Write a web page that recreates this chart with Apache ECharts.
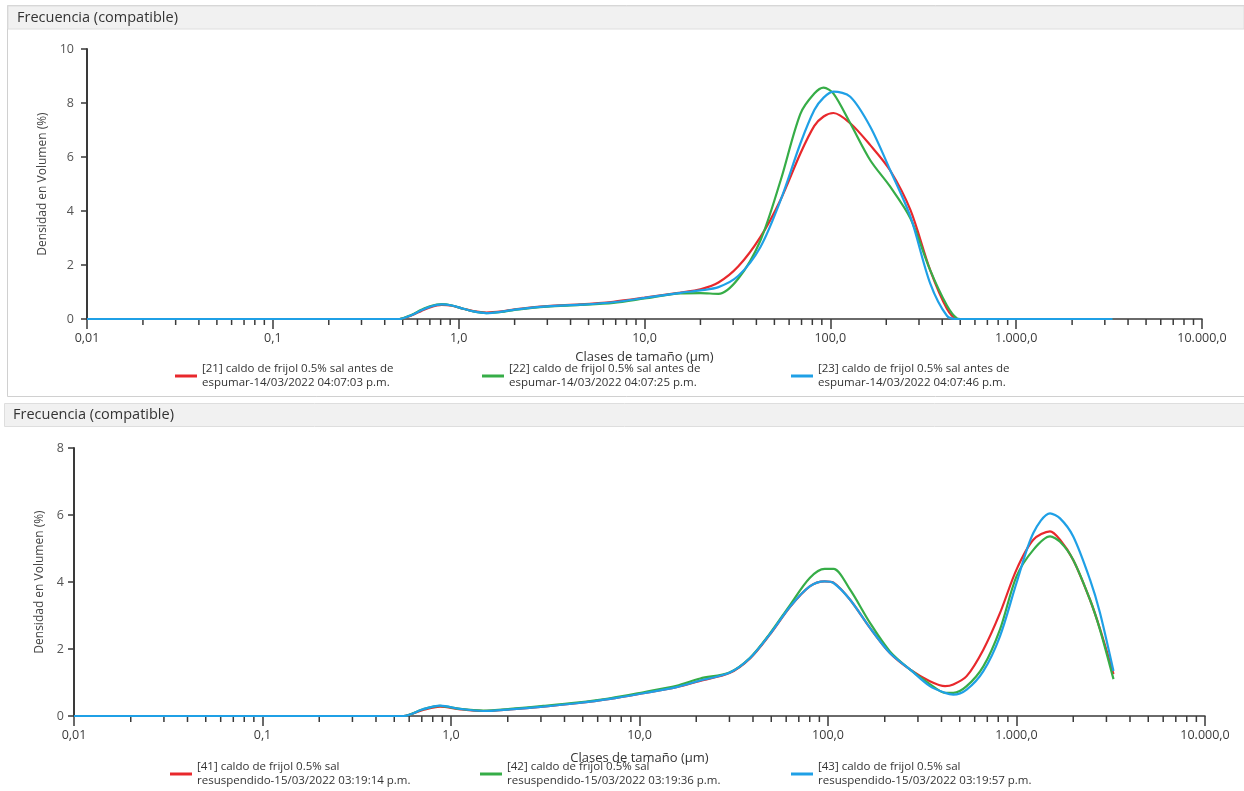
<!DOCTYPE html>
<html>
<head>
<meta charset="utf-8">
<script src="https://cdn.jsdelivr.net/npm/echarts@6/dist/echarts.min.js"></script>
<style>
html,body{margin:0;padding:0;background:#fff;}
#chart{width:1244px;height:791px;}
</style>
</head>
<body>
<div id="chart"></div>
<script>
// ---------- data ----------
var topSizes = [0.01, 0.46, 0.48, 0.56, 0.63, 0.70, 0.81, 0.92, 1.06, 1.2, 1.41, 1.7, 2.0, 3.0, 4.5, 6.8, 10, 15.6, 20, 25, 32, 42, 54, 69, 82, 92, 104, 128, 164, 210, 270, 345, 424, 480, 500, 3300];
var topRed   = [0, 0, 0, 0.14, 0.30, 0.43, 0.52, 0.49, 0.38, 0.29, 0.24, 0.28, 0.36, 0.48, 0.54, 0.64, 0.79, 0.98, 1.10, 1.35, 1.95, 3.03, 4.42, 6.13, 7.15, 7.50, 7.63, 7.25, 6.44, 5.50, 4.03, 1.80, 0.38, 0, 0, 0];
var topGreen = [0, 0, 0, 0.16, 0.34, 0.47, 0.55, 0.50, 0.38, 0.28, 0.22, 0.26, 0.34, 0.46, 0.52, 0.60, 0.76, 0.95, 0.96, 0.93, 1.50, 2.90, 5.13, 7.60, 8.35, 8.57, 8.35, 7.25, 5.88, 4.90, 3.72, 1.80, 0.50, 0.02, 0, 0];
var topBlue  = [0, 0, 0, 0.15, 0.32, 0.45, 0.54, 0.50, 0.38, 0.28, 0.22, 0.27, 0.35, 0.47, 0.53, 0.62, 0.78, 0.97, 1.06, 1.18, 1.60, 2.66, 4.40, 6.50, 7.74, 8.20, 8.42, 8.23, 7.12, 5.51, 3.78, 1.31, 0.12, 0, 0, 0];

var botSizes = [0.01, 0.54, 0.56, 0.71, 0.875, 1.12, 1.48, 2.06, 3.09, 4.64, 6.98, 10.5, 15.7, 21, 30, 38.6, 49, 63, 80, 96, 107, 131, 167, 213, 272, 347, 418, 462, 544, 667, 817, 1000, 1228, 1506, 1702, 2000, 2455, 2772, 3270];
var botRed   = [0, 0, 0, 0.18, 0.28, 0.20, 0.15, 0.20, 0.28, 0.38, 0.51, 0.68, 0.86, 1.05, 1.28, 1.72, 2.42, 3.26, 3.87, 4.02, 3.98, 3.47, 2.63, 1.88, 1.39, 1.04, 0.89, 0.94, 1.19, 1.98, 3.07, 4.37, 5.26, 5.51, 5.26, 4.66, 3.47, 2.60, 1.25];
var botGreen = [0, 0, 0, 0.20, 0.30, 0.21, 0.16, 0.21, 0.30, 0.40, 0.53, 0.71, 0.90, 1.12, 1.30, 1.74, 2.45, 3.32, 4.12, 4.39, 4.39, 3.77, 2.78, 1.93, 1.39, 0.95, 0.69, 0.69, 0.89, 1.48, 2.58, 4.17, 4.96, 5.36, 5.20, 4.66, 3.47, 2.58, 1.10];
var botBlue  = [0, 0, 0, 0.20, 0.31, 0.21, 0.15, 0.20, 0.28, 0.38, 0.51, 0.68, 0.86, 1.06, 1.29, 1.73, 2.43, 3.27, 3.87, 4.02, 3.97, 3.47, 2.63, 1.88, 1.39, 0.89, 0.69, 0.64, 0.79, 1.34, 2.38, 3.97, 5.46, 6.05, 5.90, 5.36, 4.07, 3.08, 1.34];

var topNames = [
  '[21] caldo de frijol 0.5% sal antes de\nespumar-14/03/2022 04:07:03 p.m.',
  '[22] caldo de frijol 0.5% sal antes de\nespumar-14/03/2022 04:07:25 p.m.',
  '[23] caldo de frijol 0.5% sal antes de\nespumar-14/03/2022 04:07:46 p.m.'
];
var botNames = [
  '[41] caldo de frijol 0.5% sal\nresuspendido-15/03/2022 03:19:14 p.m.',
  '[42] caldo de frijol 0.5% sal\nresuspendido-15/03/2022 03:19:36 p.m.',
  '[43] caldo de frijol 0.5% sal\nresuspendido-15/03/2022 03:19:57 p.m.'
];
var xTickLabels = {'0.01':'0,01','0.1':'0,1','1':'1,0','10':'10,0','100':'100,0','1000':'1.000,0','10000':'10.000,0'};
var panelTitle = 'Frecuencia (compatible)';
var xName = 'Clases de tamaño (µm)';
var yName = 'Densidad en Volumen (%)';
var colors = ['#e8282c', '#36ad47', '#1fa0e6'];

// minor ticks of the log axis (2..9 within each decade)
var minorTicks = [];
for (var d = -2; d < 4; d++) {
  for (var k = 2; k <= 9; k++) minorTicks.push([+(k * Math.pow(10, d)).toPrecision(3), 0]);
}

function zip(xs, ys) { return xs.map(function (x, i) { return [x, ys[i]]; }); }

var FONT = 'Open Sans';
var axisColor = '#3a3a3a';

function xAxis(gi) {
  return {
    type: 'log', logBase: 10, min: 0.01, max: 10000, gridIndex: gi,
    name: xName, nameLocation: 'middle', nameGap: gi === 0 ? 32 : 36,
    nameTextStyle: {fontFamily: FONT, fontSize: 13, color: '#333'},
    axisLine: {show: true, onZero: false, lineStyle: {color: axisColor, width: 1.5}},
    axisTick: {show: true, length: 10, lineStyle: {color: axisColor, width: 1.5}},
    splitLine: {show: false},
    axisLabel: {fontFamily: FONT, fontSize: 12.5, color: '#3a3a3a', margin: 13,
      formatter: function (v) { var key = String(+v.toPrecision(3)); return xTickLabels[key] || ''; }}
  };
}
function yAxis(gi, max) {
  return {
    type: 'value', min: 0, max: max, interval: 2, gridIndex: gi,
    name: yName, nameLocation: 'middle', nameGap: gi === 0 ? 31 : 24,
    nameTextStyle: {fontFamily: FONT, fontSize: 12, color: '#444'},
    axisLine: {show: true, lineStyle: {color: axisColor, width: 2}},
    axisTick: {show: true, length: 6, lineStyle: {color: axisColor, width: 1.5}},
    splitLine: {show: false},
    axisLabel: {fontFamily: FONT, fontSize: 12.5, color: '#555', margin: gi === 0 ? 13 : 10}
  };
}
function lineSeries(name, xs, ys, ci, gi) {
  return {
    type: 'line', name: name, data: zip(xs, ys), xAxisIndex: gi, yAxisIndex: gi,
    showSymbol: false, symbol: 'none', smooth: 0.3,
    lineStyle: {color: colors[ci], width: 2.2}, itemStyle: {color: colors[ci]},
    z: 3 + ci, silent: true, animation: false
  };
}
function minorSeries(gi) {
  return {
    type: 'custom', xAxisIndex: gi, yAxisIndex: gi, data: minorTicks, silent: true, clip: false,
    renderItem: function (params, api) {
      var p = api.coord([api.value(0), 0]);
      return {type: 'line', shape: {x1: p[0], y1: p[1], x2: p[0], y2: p[1] + 6},
        style: {stroke: axisColor, lineWidth: 1.5}};
    }, z: 2
  };
}
function legend(name, left, top) {
  return {
    data: [name], left: left, top: top, orient: 'horizontal',
    icon: 'rect', itemWidth: 22, itemHeight: 3, itemGap: 0, padding: 0,
    textStyle: {fontFamily: FONT, fontSize: 11.5, color: '#333', lineHeight: 14},
    selectedMode: false
  };
}

var chart = echarts.init(document.getElementById('chart'), null, {renderer: 'canvas'});
chart.setOption({
  backgroundColor: '#ffffff',
  animation: false,
  graphic: [
    {type: 'rect', shape: {x: 7.5, y: 5.5, width: 1240, height: 391}, style: {fill: 'none', stroke: '#d0d0d0', lineWidth: 1}, z: 0},
    {type: 'rect', shape: {x: 8, y: 6, width: 1236, height: 23}, style: {fill: '#f1f1f1', stroke: '#dedede', lineWidth: 1}, z: 0},
    {type: 'text', left: 17, top: 10, style: {text: panelTitle, font: '14.5px "' + FONT + '"', fill: '#333'}, z: 1},
    {type: 'rect', shape: {x: 4.5, y: 403.5, width: 1240, height: 23}, style: {fill: '#f1f1f1', stroke: '#dedede', lineWidth: 1}, z: 0},
    {type: 'text', left: 13, top: 407, style: {text: panelTitle, font: '14.5px "' + FONT + '"', fill: '#333'}, z: 1}
  ],
  grid: [
    {left: 87, right: 42, top: 49, height: 270},
    {left: 74, right: 39, top: 448, height: 268}
  ],
  xAxis: [xAxis(0), xAxis(1)],
  yAxis: [yAxis(0, 10), yAxis(1, 8)],
  legend: [
    legend(topNames[0], 175, 362), legend(topNames[1], 482, 362), legend(topNames[2], 791, 362),
    legend(botNames[0], 170, 760), legend(botNames[1], 480, 760), legend(botNames[2], 791, 760)
  ],
  series: [
    minorSeries(0), minorSeries(1),
    lineSeries(topNames[0], topSizes, topRed, 0, 0),
    lineSeries(topNames[1], topSizes, topGreen, 1, 0),
    lineSeries(topNames[2], topSizes, topBlue, 2, 0),
    lineSeries(botNames[0], botSizes, botRed, 0, 1),
    lineSeries(botNames[1], botSizes, botGreen, 1, 1),
    lineSeries(botNames[2], botSizes, botBlue, 2, 1)
  ]
});
</script>
</body>
</html>
